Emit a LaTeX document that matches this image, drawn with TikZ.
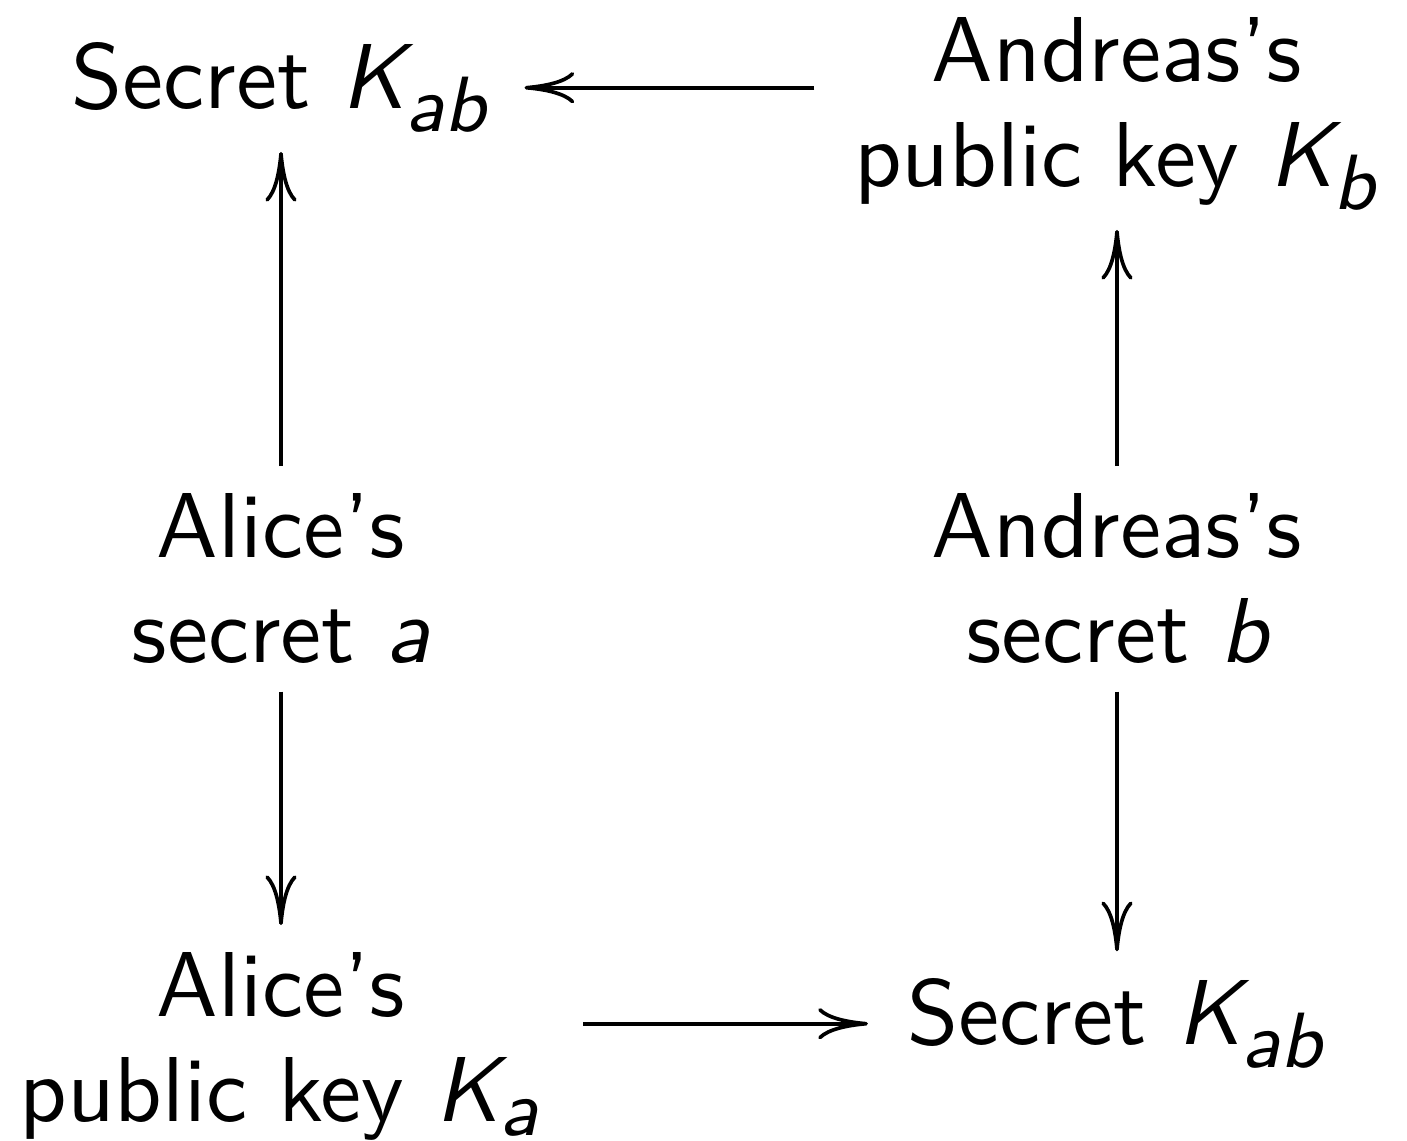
\documentclass[tikz,border=0pt]{standalone}
\usepackage{amsmath}
\usetikzlibrary{arrows.meta}
\DeclareMathSizes{10}{10}{8.5}{6}

\tikzset{
  keynode/.style={font=\sffamily\fontsize{10}{11.4}\selectfont, align=center,
    inner sep=3pt, outer sep=0pt, anchor=base},
  keyarrow/.style={-{Computer Modern Rightarrow[length=5.4pt,width=3.4pt]},
    line width=0.4pt}
}

\begin{document}
\begin{tikzpicture}[x=0.1084pt, y=-0.1084pt]
		\useasboundingbox (0,0) rectangle (1407,1141);
		\node[keynode] (tl) at (281,109) {Secret $\textit{K}_{\textit{ab}}$};
		\node[keynode] (tr) at (1117,187) {Andreas's\\public key $\textit{K}_{\textit{b}}$};
		\node[keynode] (ml) at (281,663) {Alice's\\secret $\textit{a}$};
		\node[keynode] (mr) at (1117,663) {Andreas's\\secret $\textit{b}$};
		\node[keynode] (bl) at (281,1122) {Alice's\\public key $\textit{K}_{\textit{a}}$};
		\node[keynode] (br) at (1117,1045) {Secret $\textit{K}_{\textit{ab}}$};
		\draw[keyarrow, shorten <=1.3pt, shorten >=0.7pt] (tr.west |- tl.east) -- (tl.east);
		\draw[keyarrow, shorten >=-0.9pt] (ml) -- (tl);
		\draw[keyarrow, shorten >=-0.9pt] (mr) -- (tr);
		\draw[keyarrow] (ml) -- (bl);
		\draw[keyarrow] (mr) -- (br);
		\draw[keyarrow, shorten <=1.4pt, shorten >=1.3pt] (bl.east |- br.west) -- (br.west);
\end{tikzpicture}
\end{document}
